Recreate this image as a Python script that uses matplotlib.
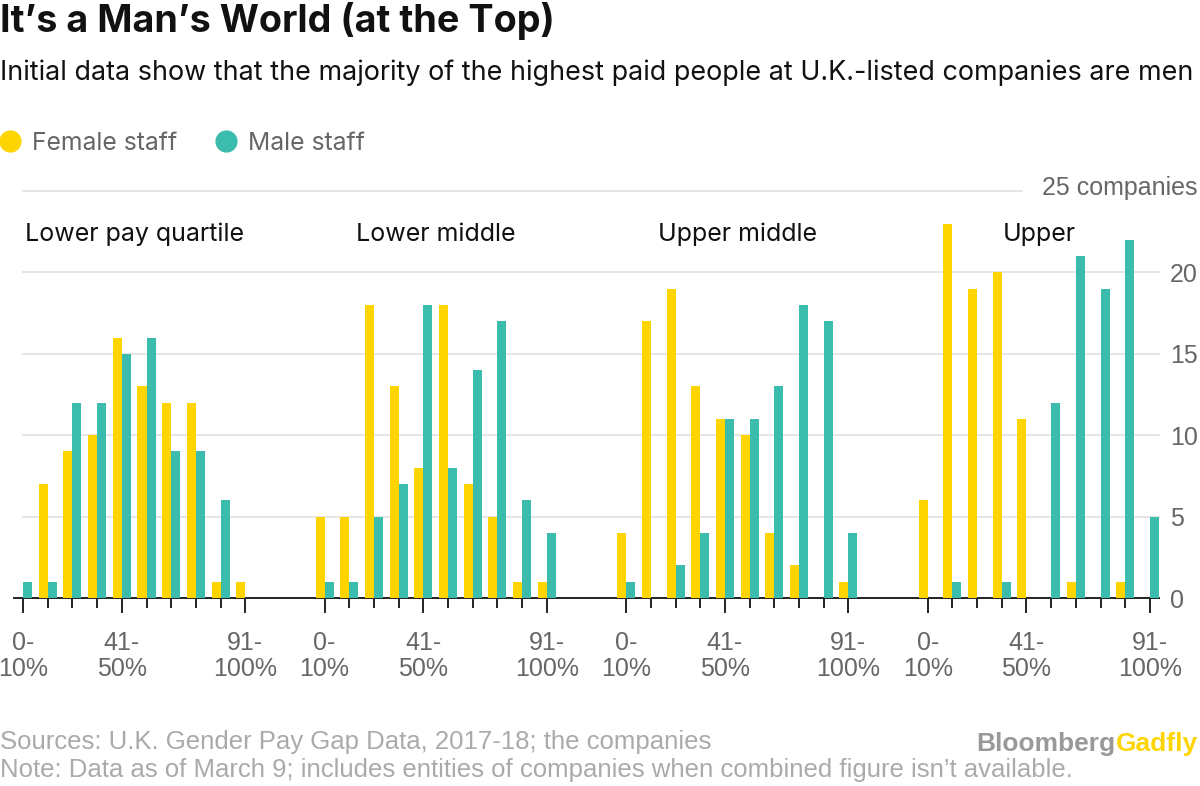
import numpy as np
import matplotlib
matplotlib.use('Agg')
import matplotlib.pyplot as plt
from matplotlib.lines import Line2D

# data: number of companies per band of female/male share
panels = ['Lower pay quartile', 'Lower middle', 'Upper middle', 'Upper']
bands = ['0-10%', '11-20%', '21-30%', '31-40%', '41-50%',
         '51-60%', '61-70%', '71-80%', '81-90%', '91-100%']
tick_labels = {0: '0-\n10%', 4: '41-\n50%', 9: '91-\n100%'}

female_lower = [0, 7, 9, 10, 16, 13, 12, 12, 1, 1]
male_lower = [1, 1, 12, 12, 15, 16, 9, 9, 6, 0]
female_lowmid = [5, 5, 18, 13, 8, 18, 7, 5, 1, 1]
male_lowmid = [1, 1, 5, 7, 18, 8, 14, 17, 6, 4]
female_upmid = [4, 17, 19, 13, 11, 10, 4, 2, 0, 1]
male_upmid = [1, 0, 2, 4, 11, 11, 13, 18, 17, 4]
female_upper = [6, 23, 19, 20, 11, 0, 1, 0, 1, 0]
male_upper = [0, 1, 0, 1, 0, 12, 21, 19, 22, 5]

female = [female_lower, female_lowmid, female_upmid, female_upper]
male = [male_lower, male_lowmid, male_upmid, male_upper]

YELLOW = '#FED500'
TEAL = '#3CBCAC'
GREY = '#666666'
SANS = 'Inter'

W, H = 1200, 786
fig = plt.figure(figsize=(12, 7.86), dpi=100)

def fx(px):
    return px / W

def fy(py):
    return 1 - py / H

# axes: baseline at y=598px, 25 at y=191px, x from 14px to 1159px
ax = fig.add_axes([fx(14), fy(598), fx(1159 - 14), (598 - 191) / H])

gap = 12.21  # panel offset in band units
bw = 0.365
n = len(bands)
xmax = 3 * gap + 9 + bw
ax.set_xlim(-bw, xmax)
ax.set_ylim(0, 25)

major_pos, major_lab, minor_pos = [], [], []
for p in range(4):
    x = p * gap + np.arange(n)
    ax.bar(x, female[p], width=-bw, align='edge', color=YELLOW, zorder=3)
    ax.bar(x, male[p], width=bw, align='edge', color=TEAL, zorder=3)
    for i in range(n):
        if i in tick_labels:
            major_pos.append(x[i])
            major_lab.append(tick_labels[i])
        else:
            minor_pos.append(x[i])
    ax.text(p * gap + 4.5, 22.35, panels[p], ha='center', va='center',
            fontsize=18, family=SANS, color='#111111')

# gridlines
for v in [5, 10, 15, 20]:
    ax.plot([0, xmax], [v, v], color='#e3e3e3', lw=1.3, zorder=1, clip_on=False)
x_end25 = -bw + (1022 - 14) / (1159 - 14) * (xmax + bw)
ax.plot([0, x_end25], [25, 25], color='#e3e3e3', lw=1.3, zorder=1, clip_on=False)

for s in ['top', 'left', 'right']:
    ax.spines[s].set_visible(False)
ax.spines['bottom'].set_linewidth(1.4)
ax.spines['bottom'].set_color('#222222')

ax.set_xticks(major_pos)
ax.set_xticklabels(major_lab, fontsize=18, family='Liberation Sans',
                   color=GREY, linespacing=1.15)
ax.set_xticks(minor_pos, minor=True)
ax.tick_params(axis='x', which='major', length=10.5, width=1.4, color='#222222', pad=13)
ax.tick_params(axis='x', which='minor', length=7.5, width=1.4, color='#222222')

ax.yaxis.tick_right()
ax.set_yticks([0, 5, 10, 15, 20])
ax.set_yticklabels(['0', '5', '10', '15', '20'], fontsize=18,
                   family='Liberation Sans', color=GREY)
ax.tick_params(axis='y', length=0, pad=8)

fig.text(fx(1198), fy(188), '25 companies', ha='right', va='center',
         fontsize=18, family='Liberation Sans', color=GREY)

# title and subtitle
fig.text(fx(0), fy(21), 'It\u2019s a Man\u2019s World (at the Top)', ha='left',
         va='center', fontsize=27.2, fontweight='bold', family=SANS, color='#111111')
fig.text(fx(0), fy(73), 'Initial data show that the majority of the highest paid '
         'people at U.K.-listed companies are men', ha='left', va='center',
         fontsize=19.4, family=SANS, color='#111111')

# legend
for cx, col, lab in [(10, YELLOW, 'Female staff'), (226, TEAL, 'Male staff')]:
    fig.add_artist(Line2D([fx(cx)], [fy(141)], marker='o', markersize=15,
                          color=col, transform=fig.transFigure, lw=0))
    fig.text(fx(cx + 22), fy(143), lab, ha='left', va='center', fontsize=17.8,
             family=SANS, color=GREY)

# footer
fig.text(fx(0), fy(742), 'Sources: U.K. Gender Pay Gap Data, 2017-18; the companies',
         ha='left', va='center', fontsize=18.5, family='Liberation Sans', color='#aaaaaa')
fig.text(fx(0), fy(770), 'Note: Data as of March 9; includes entities of companies '
         'when combined figure isn\u2019t available.', ha='left', va='center',
         fontsize=18.5, family='Liberation Sans', color='#aaaaaa')

g = fig.text(fx(1198), fy(744), 'Gadfly', ha='right', va='center', fontsize=19,
             fontweight='bold', family='Liberation Sans', color=YELLOW)
fig.canvas.draw()
bb = g.get_window_extent(fig.canvas.get_renderer())
fig.text(bb.x0 / W, fy(744), 'Bloomberg', ha='right', va='center', fontsize=19,
         fontweight='bold', family='Liberation Sans', color='#999999')

fig.savefig('out.png', dpi=100)
